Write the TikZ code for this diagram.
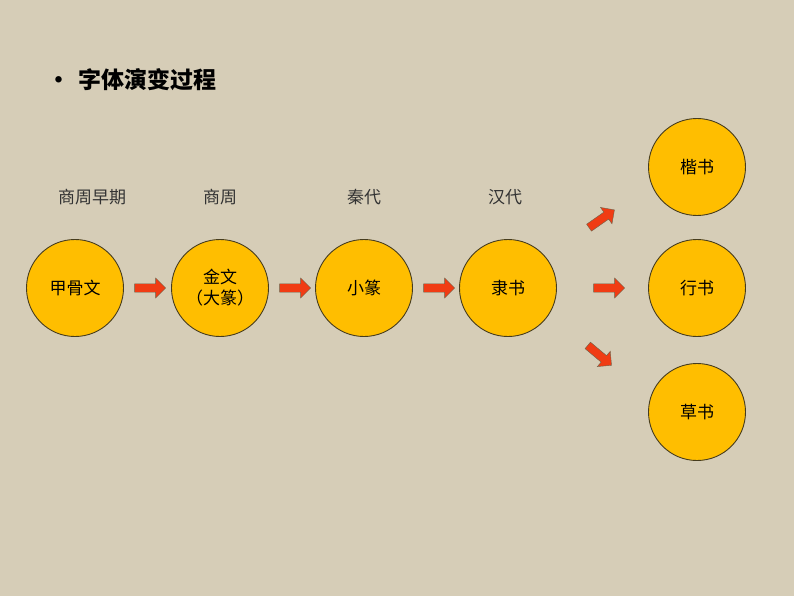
\documentclass[tikz,border=0pt]{standalone}
\usepackage{fontspec}
\setmainfont{Noto Sans CJK SC}
\usetikzlibrary{shapes.arrows, positioning}
\definecolor{bgbeige}{RGB}{214,205,183}
\definecolor{sunyellow}{RGB}{255,190,0}
\definecolor{arrowred}{RGB}{240,60,20}
\definecolor{darkline}{RGB}{70,60,30}

\begin{document}
\begin{tikzpicture}[x=1pt, y=-1pt,
  glyph/.style={circle, draw=darkline, line width=0.9pt, fill=sunyellow,
                minimum size=97pt, inner sep=0pt, align=center,
                font=\fontsize{17}{21}\selectfont},
  era/.style={font=\fontsize{17}{20}\selectfont, text=black!80},
  blockarrow/.style={single arrow, draw=darkline!80, fill=arrowred,
                     minimum height=31pt, minimum width=20pt,
                     single arrow head extend=3pt, inner sep=2pt}]
  % Background
  \fill[bgbeige] (0,0) rectangle (794,596);

  % Title
  \node[font=\fontsize{23}{27}\selectfont\bfseries, anchor=west] (title) at (44,80)
    {•\hspace{8pt}字体演变过程};

  % Main chain
  \node[glyph] (jgw) at (75,288) {甲骨文};
  \node[glyph] (jw) at (220,288) {金文\\（大篆）};
  \node[glyph] (xz) at (364,288) {小篆};
  \node[glyph] (ls) at (508,288) {隶书};

  % Branches
  \node[glyph] (ks) at (697,167) {楷书};
  \node[glyph] (xs) at (697,288) {行书};
  \node[glyph] (cs) at (697,412) {草书};

  % Era labels
  \node[era] (e1) at (92,197) {商周早期};
  \node[era] (e2) at (220,197) {商周};
  \node[era] (e3) at (364,197) {秦代};
  \node[era] (e4) at (505,197) {汉代};

  % Block arrows
  \node[blockarrow] (a1) at (148,288) {};
  \node[blockarrow] (a2) at (293,288) {};
  \node[blockarrow] (a3) at (437,288) {};
  \node[blockarrow, rotate=35] (a4) at (600,220) {};
  \node[blockarrow] (a5) at (607,288) {};
  \node[blockarrow, rotate=-40] (a6) at (598,354) {};
\end{tikzpicture}
\end{document}
